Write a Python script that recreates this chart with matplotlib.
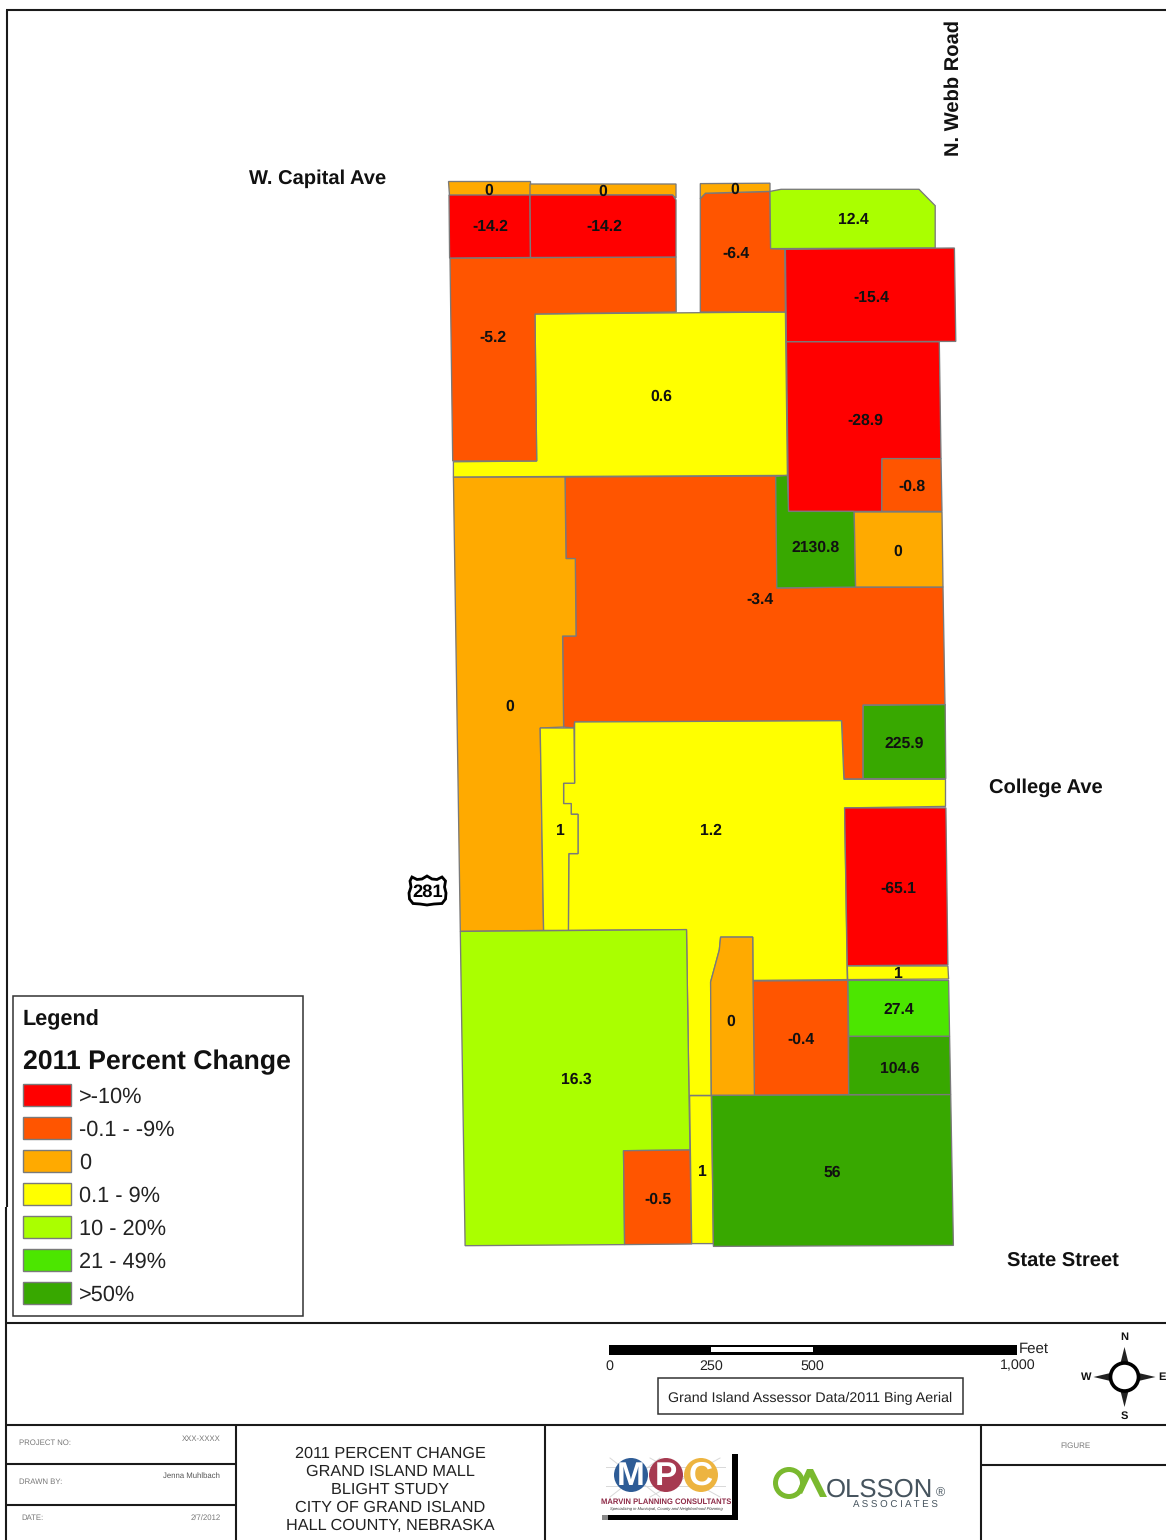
import matplotlib
matplotlib.use("Agg")
import matplotlib.pyplot as plt
from matplotlib.patches import Polygon, Rectangle, Circle

plt.rcParams['font.family'] = ['Liberation Sans', 'DejaVu Sans']
plt.rcParams['text.hinting'] = 'none'

# ---------- data ----------
parcel_values = [-3.4, 0, 0.6, -5.2, -6.4, 0, 0, 0, -14.2, -14.2, 12.4, -15.4,
                 -28.9, -0.8, 2130.8, 0, 225.9, 1.2, 1, -65.1, 1, 27.4, 104.6,
                 -0.4, 0, 16.3, -0.5, 1, 56]

parcel_shapes = [
    [(565,477),(776,476),(777,588),(856,587),(943,587),(945,705),(863,705),(863,779),(844,779),
     (841.5,721),(574.6,722),(574,728),(563.6,727),(562.6,636),(576,636),(575.3,558.6),(566,558.6)],
    [(453.4,477),(565,477),(566,558.6),(575.3,558.6),(576,636),(562.6,636),(563.6,727),(540.2,728),(543.6,930.4),(460.3,931.4)],
    [(535,314),(785.4,312),(787.4,475.4),(453.4,477),(453.4,461.8),(536.7,461)],
    [(450,258),(676,257),(676.2,312),(535,314),(536.7,461),(452.7,461)],
    [(700.3,198.6),(705.5,193.2),(770,191.4),(770.6,248.6),(784.7,249.3),(785.4,312),(700.3,312)],
    [(448,181),(530,181),(530,195),(449,195)],
    [(530,184),(676,184),(676,198),(672,195),(530,195)],
    [(700.3,183.6),(770,183.2),(770,191.4),(705.5,193.2),(700.3,198.6)],
    [(449,195),(530,195),(530.5,257.5),(449.6,258)],
    [(530,195),(672.8,195),(676,200),(676,257),(530.5,257.5)],
    [(770,191.4),(781,189.3),(919,189.3),(935.2,205.7),(935.2,248),(770.6,248.6)],
    [(785.4,249.3),(954.4,248),(955.8,341.4),(786.4,341.8)],
    [(786.4,341.8),(939.3,341.8),(941,458.6),(882,458.6),(881.8,511.4),(788.5,511.4)],
    [(882,458.6),(941,458.6),(942,511.4),(881.8,511.4)],
    [(775.7,476.4),(787.4,475.4),(788.5,511.4),(854.2,511.4),(855.6,587.1),(776.8,587.9)],
    [(854.2,512),(942,512),(943,587),(855.6,587)],
    [(863.2,705.4),(945.2,704.6),(945.8,778.6),(863.2,778.6)],
    [(574.6,722),(841.5,720.7),(843.9,779.3),(945.5,779.3),(945.5,806.4),(844.6,807.9),(847.3,979.6),
     (753,980.4),(752.7,937.1),(720.6,937.1),(719.3,950),(710.6,982),(711.3,1095.4),(689,1095.4),
     (686.5,929.6),(568.4,930.4),(568.8,853.6),(578,853.6),(578,814.3),(571.2,814.3),(571.2,803.6),
     (563.6,803.6),(563.6,783.2),(574.6,783.2)],
    [(540.2,728),(574,728),(574.6,783.2),(563.6,783.2),(563.6,803.6),(571.2,803.6),(571.2,814.3),
     (578,814.3),(578,853.6),(568.8,853.6),(568.4,930.4),(543.6,930.4)],
    [(844.6,807.9),(945.9,807.9),(947.9,965),(847.3,965.7)],
    [(847.3,966),(947.9,966),(948.6,979),(847.7,979.6)],
    [(847.7,980.4),(948.6,980.4),(949.6,1036.4),(848.7,1036.4)],
    [(848.7,1036.4),(949.6,1036.4),(950.7,1094.6),(848.4,1094.6)],
    [(753,981),(847.7,980.4),(848.7,1094.6),(754.4,1095.4)],
    [(720.6,937.1),(752.7,937.1),(753,981),(754.4,1095.4),(711.3,1095.4),(710.6,982),(719.3,950)],
    [(460.3,931.4),(686.5,929.6),(689,1095.4),(690,1150),(623.5,1150.7),(624.6,1244.6),(465.1,1245.7)],
    [(623.5,1150.7),(690,1150),(691.7,1244),(624.6,1244.6)],
    [(689.6,1095.7),(711.3,1095.7),(713.4,1243.6),(691.7,1243.6)],
    [(711.7,1095.4),(950.7,1094.6),(953.4,1245.4),(713.4,1246.4)],
]

parcel_label_xy = [
    (760,598),(510,705),(661,395),(493,336),(736,252),(489,189),(603,190),(735,188),(490,226),(604,226),
    (853,219),(871,296),(865,419),(912,485),(816,546),(898,550),(904,742),(711,830),(560,830),(898,887),
    (898,973),(899,1009),(900,1067),(801,1038),(731,1020),(576,1078),(658,1198),(702,1171),(832,1171),
]

legend_labels = ['>-10%', '-0.1 - -9%', '0', '0.1 - 9%', '10 - 20%', '21 - 49%', '>50%']
legend_colors = ['#FF0000', '#FF5500', '#FFAA00', '#FFFF00', '#AAFF00', '#4CE600', '#38A800']
road_labels = ['W. Capital Ave', 'N. Webb Road', 'College Ave', 'State Street']
title_lines = ['2011 PERCENT CHANGE', 'GRAND ISLAND MALL', 'BLIGHT STUDY',
               'CITY OF GRAND ISLAND', 'HALL COUNTY, NEBRASKA']
scale_feet = [0, 250, 500, 1000]
scale_labels = ['0', '250', '500', '1,000']


def class_color(v):
    if v <= -10:
        return legend_colors[0]
    if v < 0:
        return legend_colors[1]
    if v == 0:
        return legend_colors[2]
    if v < 10:
        return legend_colors[3]
    if v <= 20:
        return legend_colors[4]
    if v < 50:
        return legend_colors[5]
    return legend_colors[6]


# ---------- canvas ----------
fig = plt.figure(figsize=(11.66, 15.40), dpi=100, facecolor='white')
ax = fig.add_axes([0, 0, 1, 1])
ax.set_xlim(0, 1166)
ax.set_ylim(1540, 0)
ax.axis('off')

INK = '#111111'
EDGE = '#7A7A7A'

# ---------- parcels ----------
for v, shape, (lx, ly) in zip(parcel_values, parcel_shapes, parcel_label_xy):
    ax.add_patch(Polygon(shape, closed=True, facecolor=class_color(v), edgecolor=EDGE, lw=0.95, zorder=2))
    ax.text(lx, ly + 1.3, f'{v:g}', ha='center', va='center', fontsize=11.3, fontweight='bold',
            color=INK, zorder=5)

# ---------- road labels ----------
ax.text(249, 178.5, road_labels[0], ha='left', va='center', fontsize=14.5, fontweight='bold', color=INK)
ax.text(953.5, 87.5, road_labels[1], ha='center', va='center', rotation=90, fontsize=14.5, fontweight='bold', color=INK)
ax.text(989, 787.5, road_labels[2], ha='left', va='center', fontsize=14.5, fontweight='bold', color=INK)
ax.text(1007, 1261.5, road_labels[3], ha='left', va='center', fontsize=14.5, fontweight='bold', color=INK)

# ---------- route shield ----------
shield = [(412,877),(417,879.5),(422,879),(427,876),(432,879),(437,879.5),(442,877),(445.5,881),(444.5,887),
          (446,893),(445.5,899),(442,903.5),(434,904),(427,905),(420,904),(413,903.5),(409.5,899),(409,893),
          (411,887),(410,881)]
ax.add_patch(Polygon(shield, closed=True, facecolor='white', edgecolor='black', lw=2, zorder=3))
ax.text(427.5, 892, '281', ha='center', va='center', fontsize=13.2, fontweight='bold', color='black', zorder=4)

# ---------- legend ----------
ax.add_patch(Rectangle((13, 996), 289.5, 319.5, facecolor='white', edgecolor='#333333', lw=1.1, zorder=3))
ax.text(23, 1019.5, 'Legend', ha='left', va='center', fontsize=15.6, fontweight='bold', color=INK, zorder=4)
ax.text(23, 1062, '2011 Percent Change', ha='left', va='center', fontsize=19.2, fontweight='bold', color=INK, zorder=4)
for i, (lab, col) in enumerate(zip(legend_labels, legend_colors)):
    yc = 1095 + i * 33
    ax.add_patch(Rectangle((23, yc - 11.3), 48, 22.5, facecolor=col, edgecolor=EDGE, lw=1.0, zorder=4))
    ax.text(79, yc + 2, lab, ha='left', va='center', fontsize=15.7, color='#222222', zorder=4)

# ---------- frame ----------
lines = [((6.5, 6.5), (10, 1207)), ((5.7, 5.7), (1207, 1540)), ((6, 1166), (10, 10)),
         ((6, 1166), (1322.5, 1322.5)), ((6, 1166), (1424.5, 1424.5)),
         ((236, 236), (1424.5, 1540)), ((544.5, 544.5), (1424.5, 1540)), ((981, 981), (1424.5, 1540)),
         ((6, 236), (1464, 1464)), ((6, 236), (1504.5, 1504.5)), ((981, 1166), (1464.5, 1464.5))]
for xs, ys in lines:
    ax.plot(xs, ys, color='#1a1a1a', lw=1.5, solid_capstyle='butt', zorder=1)

# ---------- title block ----------
ax.text(19, 1443, 'PROJECT NO:', fontsize=5.6, color='#777777', va='center')
ax.text(221, 1439, 'XXX-XXXX', fontsize=5.6, color='#777777', va='center', ha='right')
ax.text(19, 1482, 'DRAWN BY:', fontsize=5.6, color='#777777', va='center')
ax.text(220, 1476, 'Jenna Muhlbach', fontsize=5.6, color='#555555', va='center', ha='right')
ax.text(21, 1518, 'DATE:', fontsize=5.6, color='#777777', va='center')
ax.text(221, 1518, '2/7/2012', fontsize=5.6, color='#777777', va='center', ha='right')
for line, y in zip(title_lines, [1454, 1472, 1490, 1508, 1526]):
    ax.text(390, y, line, ha='center', va='center', fontsize=11.7, color='#222222')
ax.text(1075, 1446, 'FIGURE', ha='center', va='center', fontsize=5.8, color='#777777')

# ---------- scale bar ----------
FT0, PX_PER_FT = 609, 0.4075
ax.add_patch(Rectangle((FT0, 1344.5), 1000 * PX_PER_FT, 10, facecolor='black', edgecolor='none', zorder=3))
ax.add_patch(Rectangle((FT0 + 250 * PX_PER_FT, 1346.8), 250 * PX_PER_FT, 5, facecolor='white', edgecolor='none', zorder=4))
for ft, lab in zip(scale_feet, scale_labels):
    ax.text(FT0 + ft * PX_PER_FT + (0 if ft < 1000 else 1), 1366, lab, ha='center', va='center', fontsize=10.3, color='#222222')
ax.text(1019, 1349, 'Feet', ha='left', va='center', fontsize=10.8, color='#222222')
ax.add_patch(Rectangle((658, 1378), 305, 36, facecolor='white', edgecolor='#333333', lw=1.1, zorder=3))
ax.text(810.5, 1398, 'Grand Island Assessor Data/2011 Bing Aerial', ha='center', va='center',
        fontsize=10.3, color='#222222', zorder=4)

# ---------- compass ----------
cx, cy = 1124.5, 1377
ax.add_patch(Circle((cx, cy), 14, facecolor='white', edgecolor='black', lw=2.6, zorder=4))
for pts in ([(cx, cy-30), (cx-4, cy-14), (cx+4, cy-14)], [(cx, cy+30), (cx-4, cy+14), (cx+4, cy+14)],
            [(cx+31, cy), (cx+14, cy-4), (cx+14, cy+4)], [(cx-31, cy), (cx-14, cy-4), (cx-14, cy+4)]):
    ax.add_patch(Polygon(pts, closed=True, facecolor='#222222', edgecolor='none', zorder=3))
for lab, x, y in (('N', 1124.5, 1337), ('S', 1124.5, 1416), ('W', 1086, 1377), ('E', 1162, 1377)):
    ax.text(x, y, lab, ha='center', va='center', fontsize=8, fontweight='bold', color='#111111', zorder=5)

# ---------- MPC logo ----------
for a, b in (((610,1458),((660,1497))), ((660,1458),(610,1497)), ((650,1458),(720,1497)),
             ((720,1458),(650,1497)), ((606,1467),(725,1467)), ((606,1486),(725,1486))):
    ax.plot((a[0], b[0]), (a[1], b[1]), color='#D8D8D8', lw=0.7, zorder=2)
for x, col, lab in ((631, '#2E5C96', 'M'), (666, '#A63A50', 'P'), (701, '#EDB440', 'C')):
    ax.add_patch(Circle((x, 1475), 17, facecolor=col, edgecolor='none', zorder=3))
    ax.text(x, 1476, lab, ha='center', va='center', fontsize=24, fontweight='bold', color='white', zorder=4)
ax.add_patch(Rectangle((731.5, 1454), 6, 66, facecolor='black', edgecolor='none', zorder=3))
ax.add_patch(Rectangle((608, 1515), 129.5, 5, facecolor='black', edgecolor='none', zorder=3))
ax.add_patch(Rectangle((602, 1515), 6, 5, facecolor='#888888', edgecolor='none', zorder=3))
ax.text(666.5, 1501.5, 'MARVIN PLANNING CONSULTANTS', ha='center', va='center', fontsize=5.5, fontweight='bold',
        color='#8E2C48', zorder=4)
ax.text(666, 1509, 'Specializing in Municipal, County and Neighborhood Planning', ha='center', va='center',
        fontsize=3.0, style='italic', color='#333333', zorder=4)

# ---------- Olsson logo ----------
GREEN = '#7AB92F'
ax.add_patch(Circle((789, 1483), 13.5, facecolor='none', edgecolor=GREEN, lw=3.6, zorder=3))
ax.add_patch(Polygon([(797,1491),(807,1469),(813,1469),(827,1497),(820,1497),(810,1477),(802,1494)],
                     closed=True, facecolor=GREEN, edgecolor='none', zorder=4))
ax.text(879, 1490, 'OLSSON', ha='center', va='center', fontsize=18.5, color='#46545E', zorder=4)
ax.text(940.5, 1493, '®', ha='center', va='center', fontsize=9, color='#46545E', zorder=4)
ax.text(895, 1505.5, 'A S S O C I A T E S', ha='center', va='center', fontsize=7, color='#46545E', zorder=4)

fig.savefig('out.png', dpi=100, facecolor='white')
